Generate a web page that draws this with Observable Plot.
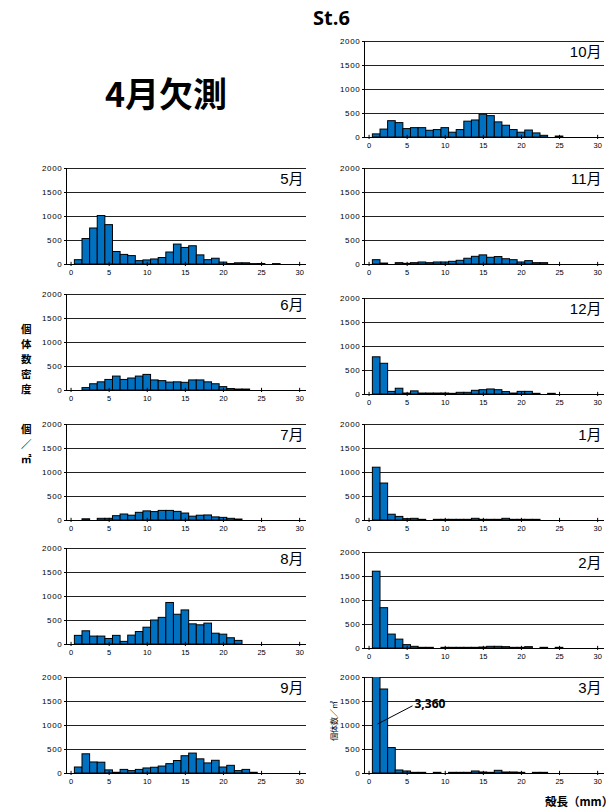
<!DOCTYPE html>
<html><head><meta charset="utf-8">
<script src="https://cdn.jsdelivr.net/npm/d3@7"></script>
<script src="https://cdn.jsdelivr.net/npm/@observablehq/plot@0.6"></script>
<style>
body{margin:0;background:#fff;}
#root{position:relative;width:616px;height:810px;overflow:hidden;background:#fff;font-family:"Liberation Sans","Noto Sans CJK JP",sans-serif;color:#000;}
.panel{position:absolute;}
.txt{position:absolute;white-space:nowrap;font-weight:bold;}
.vcol{position:absolute;display:flex;flex-direction:column;align-items:center;font-weight:bold;font-size:10.5px;line-height:15px;font-family:"Noto Sans CJK JP",sans-serif;}
.vcol span{display:block;height:15px;line-height:15px;}
g[aria-label="y-axis tick label"] text{letter-spacing:0.7px;}
</style></head><body><div id="root"></div>
<script>
// size classes (mm) are 1,2,3,... ; values = individuals / m2
const monthLabels = ["10月","5月","11月","6月","12月","7月","1月","8月","2月","9月","3月"];
const may = [90,530,750,1010,820,260,200,175,70,85,105,135,250,415,345,380,190,90,120,40,10,25,25,8,10,0,8];
const jun = [0,50,130,170,220,290,220,250,290,325,210,195,165,170,160,210,210,170,130,70,30,20,20];
const jul = [0,25,0,35,35,90,125,100,160,190,175,200,200,180,145,80,100,105,65,55,35,20];
const aug = [180,275,165,165,115,180,55,185,260,350,500,555,865,620,710,420,400,435,225,205,130,75];
const sep = [125,400,230,225,65,15,75,50,75,105,120,145,195,260,360,415,295,210,265,125,160,50,75,15];
const oct = [65,165,340,300,175,195,195,140,155,195,100,155,330,355,475,445,315,245,155,100,145,85,35,0,20];
const nov = [90,20,0,28,14,28,42,28,42,42,56,77,120,160,190,140,155,110,90,42,70,28,28];
const dec = [775,640,55,120,20,65,20,20,20,20,14,35,35,77,90,105,90,50,20,55,55,14,0,14];
const jan = [1100,770,120,75,28,35,14,0,14,14,14,14,14,35,14,14,14,35,14,14,14,14];
const feb = [1600,840,290,185,70,35,14,14,0,14,14,14,14,14,20,35,35,28,14,14,28,0,14,0,14];
const mar = [3360,1750,530,63,42,14,14,0,14,0,14,14,14,42,21,14,56,21,21,14,0,14,14];
const yTicks = [0,500,1000,1500,2000];
const xTicks = [0,5,10,15,20,25,30];
// annotation for the clipped March bar
const marNote = [{x1:1.1, y1:1030, x2:5.7, y2:1410, value:3360}];

const xDomain = [-0.6, 30.9];
const fontStack = "'Liberation Sans','Noto Sans CJK JP',sans-serif";

function panel(values, label, extra = []) {
  const data = values.map((v, i) => ({cls: i + 1, v})).filter(d => d.v > 0);
  return Plot.plot({
    width: 288, height: 120,
    marginLeft: 38, marginRight: 10, marginTop: 6, marginBottom: 18,
    x: {domain: xDomain},
    y: {domain: [0, 2000]},
    style: {fontFamily: fontStack, fontSize: "7.5px", background: "transparent", overflow: "visible", color: "#000"},
    marks: [
      Plot.ruleY(yTicks.slice(1), {stroke: "#222", strokeWidth: 1}),
      Plot.rectY(data, {x1: d => d.cls - 0.5, x2: d => d.cls + 0.5, y1: 0, y2: "v", fill: "#0070C0", stroke: "#000", strokeWidth: 1, inset: 0, clip: true}),
      Plot.ruleX([xDomain[0]], {y1: 0, y2: 2000, stroke: "#000"}),
      Plot.ruleY([0], {stroke: "#000"}),
      Plot.ruleX(xTicks, {y1: 0, y2: 45, stroke: "#000"}),
      Plot.axisY(yTicks, {tickSize: 2, tickPadding: 2, fontSize: 8, label: null, tickFormat: d3.format("d")}),
      Plot.axisX(xTicks, {tickSize: 2, tickPadding: 3, fontSize: 7.5, label: null, tickFormat: d3.format("d")}),
      Plot.text([label], {frameAnchor: "top-right", dx: -3, dy: 5, lineAnchor: "top", textAnchor: "end", fontSize: 15, fontFamily: fontStack}),
      ...extra
    ]
  });
}

const root = document.getElementById("root");
function place(node, left, top) {
  node.classList.add("panel");
  node.style.left = left + "px";
  node.style.top = top + "px";
  root.appendChild(node);
}
const L = 28, R = 326;
const marExtra = [
  Plot.link(marNote, {x1: "x1", y1: "y1", x2: "x2", y2: "y2", stroke: "#000", strokeWidth: 1}),
  Plot.text(marNote, {x: "x2", y: "y2", text: d => d3.format(",")(d.value), textAnchor: "start", dx: 2, dy: -2, fontSize: 12, fontWeight: "bold", fontFamily: "'Open Sans','Liberation Sans',sans-serif"})
];
place(panel(oct, monthLabels[0]), R, 35);
place(panel(may, monthLabels[1]), L, 162);
place(panel(nov, monthLabels[2]), R, 162);
place(panel(jun, monthLabels[3]), L, 288);
place(panel(dec, monthLabels[4]), R, 292);
place(panel(jul, monthLabels[5]), L, 418);
place(panel(jan, monthLabels[6]), R, 418);
place(panel(aug, monthLabels[7]), L, 542);
place(panel(feb, monthLabels[8]), R, 546);
place(panel(sep, monthLabels[9]), L, 671);
place(panel(mar, monthLabels[10], marExtra), R, 671);

function addText(text, css) {
  const d = document.createElement("div");
  d.className = "txt";
  d.textContent = text;
  Object.assign(d.style, css);
  root.appendChild(d);
  return d;
}
addText("St.6", {left: "313px", top: "4px", fontSize: "20px", fontFamily: "'Open Sans','Liberation Sans',sans-serif"});
addText("4月欠測", {left: "105px", top: "70px", fontSize: "34px", lineHeight: "46px", fontFamily: "'Noto Sans CJK JP',sans-serif"});
addText("殻長（mm）", {left: "545px", top: "794px", fontSize: "11.5px", fontFamily: "'Noto Sans CJK JP',sans-serif", lineHeight: "14px"});
addText("個体数／㎡", {left: "333px", top: "721px", fontSize: "8px", fontWeight: "normal", lineHeight: "9px", transform: "translate(-50%,-50%) rotate(-90deg)", fontFamily: "'Noto Sans CJK JP',sans-serif"});

function vcol(chars, left, top) {
  const d = document.createElement("div");
  d.className = "vcol";
  d.style.left = left + "px";
  d.style.top = top + "px";
  chars.forEach(c => { const s = document.createElement("span"); s.textContent = c; d.appendChild(s); });
  root.appendChild(d);
}
vcol(["個","体","数","密","度"], 21, 321);
vcol(["個","／","㎡"], 21, 421);
</script></body></html>
